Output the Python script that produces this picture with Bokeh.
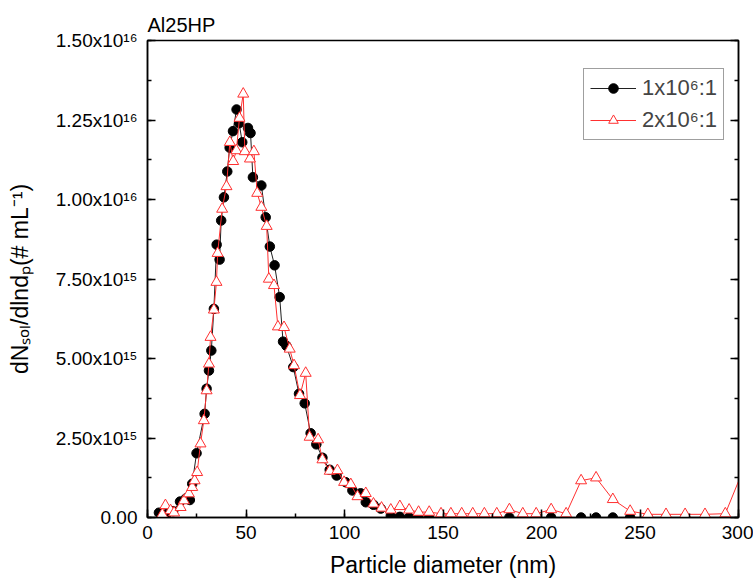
from bokeh.plotting import figure
from bokeh.models import (Range1d, LinearAxis, SingleIntervalTicker, Legend, LegendItem,
                          ColumnDataSource, CustomLabelingPolicy)
from bokeh.embed import file_html
from bokeh.resources import INLINE

# ---- data (y values in units of 1e15 # mL^-1) ----
x_black = [5.8, 9.5, 13.0, 16.5, 19.5, 21.5, 22.7, 24.9, 29.0, 30.0, 31.2, 32.4, 33.7,
           35.1, 36.6, 37.4, 38.8, 40.5, 41.7, 43.4, 45.2, 46.5, 48.1, 51.0, 52.3, 53.5,
           57.8, 60.0, 62.1, 64.5, 67.1, 68.8, 70.5, 74.0, 76.9, 79.8, 82.8, 85.7, 88.8,
           92.5, 96.0, 100.6, 104.0, 108.2, 110.8, 114.7, 118.4, 123.5, 128.1, 132.8,
           137.6, 143.0, 149.0, 154.0, 159.5, 165.1, 171.0, 177.3, 183.7, 190.5, 197.3,
           204.9, 212.5, 220.1, 227.7, 236.2, 245.0, 254.0, 263.2, 272.9, 283.0, 293.3]
y_black_e15 = [0.15, 0.1, 0.2, 0.5, 0.6, 0.55, 1.06, 2.02, 3.26, 4.05, 4.62, 5.25, 6.56,
               8.58, 8.11, 9.34, 10.07, 10.88, 11.63, 12.15, 12.83, 12.4, 11.8, 12.25, 12.09, 10.7,
               10.44, 9.44, 8.52, 7.93, 6.93, 5.53, 5.4, 4.73, 3.89, 3.59, 2.65, 2.3, 1.88,
               1.5, 1.32, 1.11, 0.85, 0.76, 0.48, 0.4, 0.28, 0.05, 0.02, 0.0,
               0.0, 0.0, 0.0, 0.0, 0.0, 0.0, 0.0, 0.0, 0.0, 0.0, 0.0,
               0.0, 0.0, 0.0, 0.0, 0.0, 0.0, 0.0, 0.0, 0.0, 0.0, 0.0]

x_red = [7.5, 9.1, 11.7, 13.5, 16.8, 18.5, 21.0, 22.7, 23.9, 25.2, 26.9, 28.6, 30.0, 31.2,
         32.0, 33.7, 35.0, 35.6, 37.9, 40.1, 41.8, 43.5, 45.1, 46.7, 48.6, 49.4, 52.0, 54.0,
         55.7, 57.8, 60.5, 61.6, 64.2, 66.2, 69.3, 72.2, 74.4, 77.4, 80.3, 82.3, 86.6, 88.8,
         92.5, 96.4, 99.8, 103.2, 106.6, 110.8, 114.7, 118.8, 123.5, 128.1, 132.8, 137.6,
         143.0, 149.0, 154.0, 159.5, 165.1, 171.0, 177.3, 183.7, 190.5, 197.3, 204.9, 212.5,
         220.1, 227.7, 236.2, 245.0, 254.0, 263.2, 272.9, 283.0, 293.3, 303.7]
y_red_e15 = [0.1, 0.38, 0.22, 0.15, 0.32, 0.53, 0.75, 0.95, 1.16, 1.42, 2.32, 3.05, 3.99, 4.83,
             5.67, 6.53, 7.4, 8.31, 9.7, 10.41, 11.8, 11.2, 11.54, 12.56, 13.32, 11.51, 11.28, 11.51,
             10.2, 9.76, 9.16, 7.5, 7.3, 6.0, 5.98, 5.3, 4.78, 3.84, 4.54, 2.53, 2.45, 1.82,
             1.46, 1.48, 1.11, 1.04, 0.66, 0.76, 0.43, 0.3, 0.24, 0.35, 0.24, 0.17,
             0.17, 0.12, 0.12, 0.12, 0.12, 0.12, 0.12, 0.25, 0.12, 0.12, 0.25, 0.12,
             1.16, 1.25, 0.57, 0.2, 0.1, 0.1, 0.1, 0.1, 0.12, 1.7]

series_labels = ["1x10\u2076:1", "2x10\u2076:1"]
y_tick_values = [0.0, 2.5e15, 5.0e15, 7.5e15, 1.0e16, 1.25e16, 1.5e16]
y_tick_labels = ["0.00", "2.50x10\u00b9\u2075", "5.00x10\u00b9\u2075", "7.50x10\u00b9\u2075",
                 "1.00x10\u00b9\u2076", "1.25x10\u00b9\u2076", "1.50x10\u00b9\u2076"]

FONT = "Liberation Sans"

src_black = ColumnDataSource(dict(x=x_black, y=[v * 1e15 for v in y_black_e15]))
src_red = ColumnDataSource(dict(x=x_red, y=[v * 1e15 for v in y_red_e15]))

p = figure(width=753, height=584, output_backend="svg", toolbar_location=None,
           x_range=Range1d(0, 300), y_range=Range1d(0, 1.5e16),
           min_border_left=147, min_border_right=15, min_border_top=40, min_border_bottom=67,
           title="Al25HP")
p.title.text_font = FONT
p.title.text_font_size = "20px"
p.title.text_font_style = "normal"
p.title.text_color = "black"
p.title.align = "left"
p.title.standoff = 10

p.xgrid.visible = False
p.ygrid.visible = False
p.outline_line_color = "black"
p.outline_line_width = 1.5
p.background_fill_color = "white"
p.border_fill_color = "white"

xt = SingleIntervalTicker(interval=50, num_minor_ticks=2)
yt = SingleIntervalTicker(interval=2.5e15, num_minor_ticks=2)
p.xaxis.ticker = xt
p.yaxis.ticker = yt
p.yaxis.major_label_overrides = dict(zip(y_tick_values, y_tick_labels))

for ax in (p.xaxis[0], p.yaxis[0]):
    ax.axis_line_width = 1.5
    ax.major_tick_in = 8
    ax.major_tick_out = 0
    ax.minor_tick_in = 4
    ax.minor_tick_out = 0
    ax.major_tick_line_width = 1.5
    ax.minor_tick_line_width = 1.5
    ax.major_label_text_font = FONT
    ax.major_label_text_font_size = "19px"
    ax.major_label_text_color = "black"
    ax.axis_label_text_font = FONT
    ax.axis_label_text_font_size = "23px"
    ax.axis_label_text_font_style = "normal"
    ax.axis_label_text_color = "black"

p.xaxis.axis_label = "Particle diameter (nm)"
p.xaxis.major_label_standoff = 8
p.xaxis.axis_label_standoff = 10
p.yaxis.axis_label = "dN\u209b\u2092\u2097/dlnd\u209a(# mL\u207b\u00b9)"
p.yaxis.major_label_standoff = 10
p.yaxis.axis_label_standoff = 20

no_labels = CustomLabelingPolicy(code="for (const i of [...indices]) indices.unset(i)")
ra = LinearAxis(ticker=SingleIntervalTicker(interval=2.5e15, num_minor_ticks=2),
                major_tick_in=8, major_tick_out=0, minor_tick_in=4, minor_tick_out=0,
                axis_line_width=1.5, major_tick_line_width=1.5, minor_tick_line_width=1.5,
                major_label_text_font_size="0px", major_label_standoff=0,
                major_label_policy=no_labels)
p.add_layout(ra, "right")

l1 = p.line("x", "y", source=src_black, line_color="#202020", line_width=1)
s1 = p.scatter("x", "y", source=src_black, marker="circle", size=9.5,
               fill_color="black", line_color="black")
l2 = p.line("x", "y", source=src_red, line_color="#FF3030", line_width=1)
s2 = p.scatter("x", "y", source=src_red, marker="triangle", size=11,
               fill_color="white", line_color="#FF3030", line_width=1)

legend = Legend(items=[LegendItem(label=series_labels[0], renderers=[l1, s1]),
                       LegendItem(label=series_labels[1], renderers=[l2, s2])],
                location=(436, 377), margin=0)
legend.label_text_font = FONT
legend.label_text_font_size = "22px"
legend.border_line_color = "#404040"
legend.border_line_width = 1
legend.glyph_width = 46
legend.glyph_height = 24
legend.padding = 6
legend.spacing = 6
legend.label_standoff = 6
p.add_layout(legend)

open("out.html", "w").write(file_html(p, INLINE))
